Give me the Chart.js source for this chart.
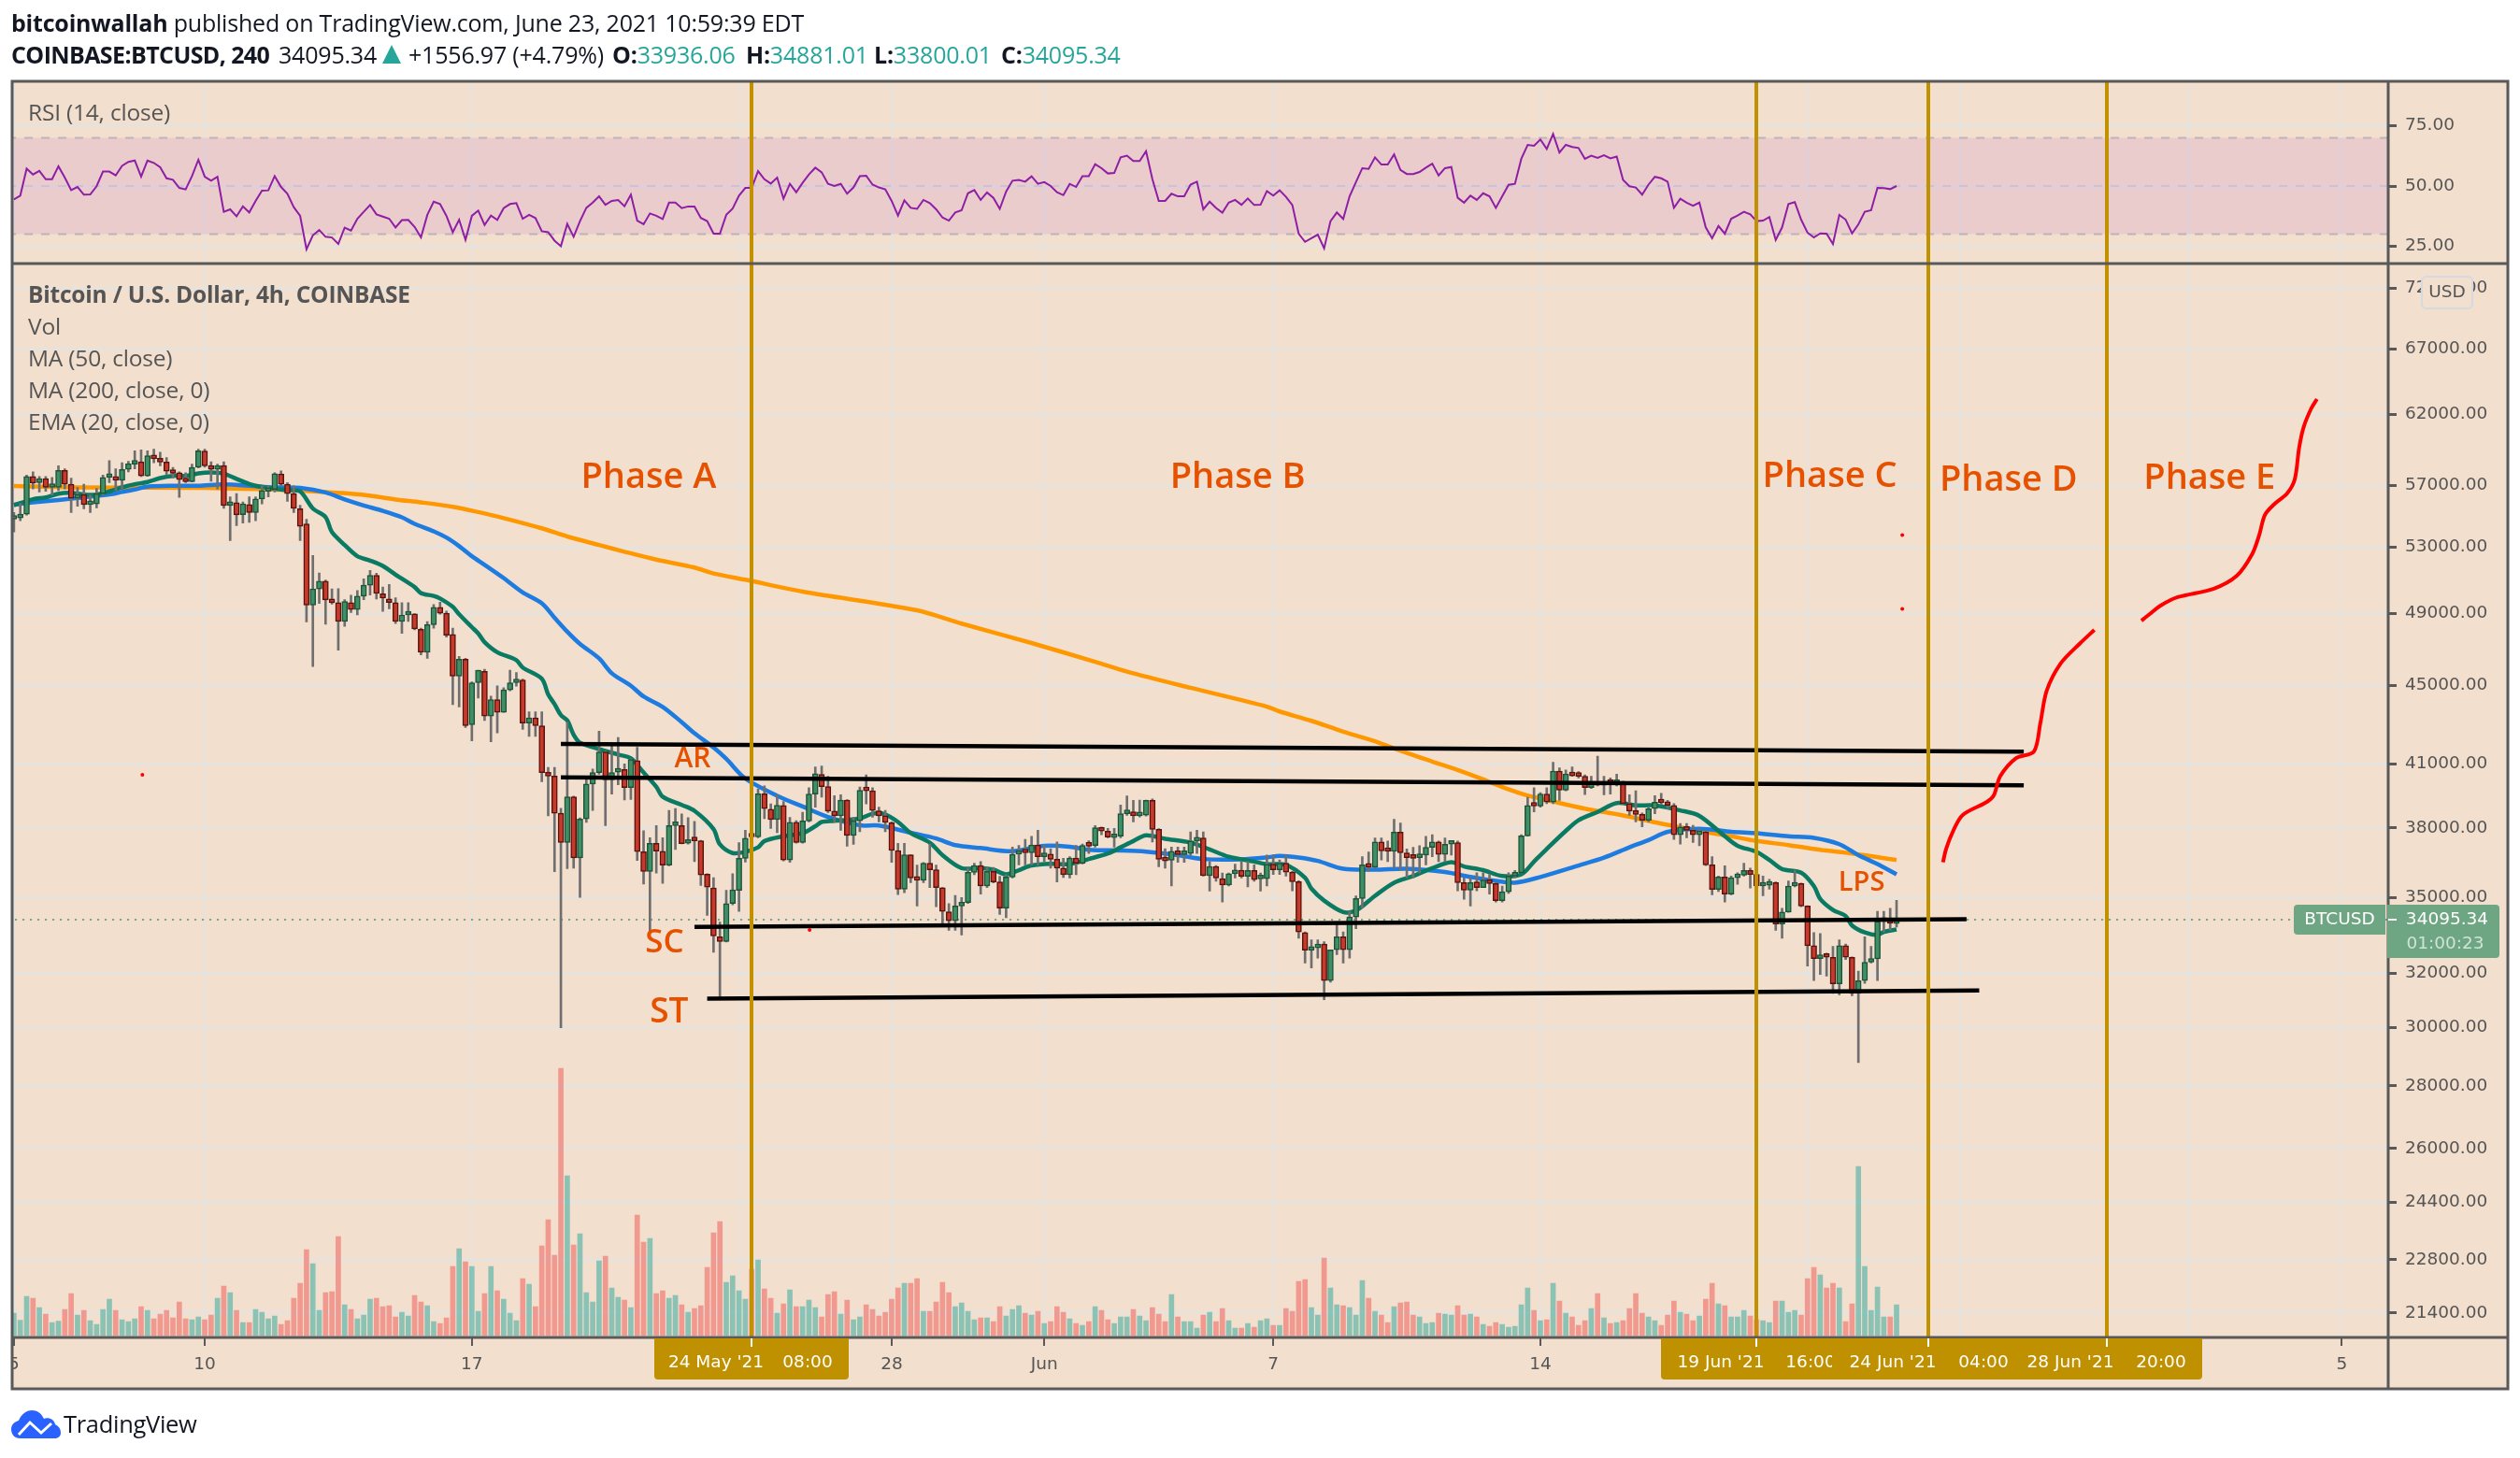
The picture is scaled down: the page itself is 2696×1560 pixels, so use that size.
<!DOCTYPE html>
<html>
<head>
<meta charset="utf-8">
<title>BTCUSD 240</title>
<script src="https://cdn.jsdelivr.net/npm/chart.js@4"></script>
<style>
    html, body { margin: 0; padding: 0; background: #ffffff; }
    body { position: relative; width: 2696px; height: 1560px; overflow: hidden; }
    canvas { position: absolute; left: 0; top: 0; }
    .txt { position: absolute; white-space: pre; font-family: "Open Sans", sans-serif; line-height: 30px; height: 30px; }
    .head { color: #131722; font-size: 25px; letter-spacing: -0.2px; }
    .leg { color: #555555; font-size: 24.5px; left: 30px; letter-spacing: -0.2px; }
    .teal { color: #26a69a; }
    b { font-weight: 700; }
</style>
</head>
<body>
<canvas id="chart" width="2696" height="1560"></canvas>
<div class="txt head" style="left:12px;top:9px"><b>bitcoinwallah</b> published on TradingView.com, June 23, 2021 10:59:39 EDT</div>
<div class="txt head" style="left:12px;top:43px;letter-spacing:-0.6px"><b>COINBASE:BTCUSD, 240</b></div>
<div class="txt head" style="left:298px;top:43px">34095.34</div>
<svg style="position:absolute;left:409px;top:48px" width="20" height="20" viewBox="0 0 20 20"><path d="M10 0 L20 20 L0 20 Z" fill="#26a69a"/></svg>
<div class="txt head" style="left:437px;top:43px">+1556.97 (+4.79%)</div>
<div class="txt head" style="left:655px;top:43px"><b>O:</b><span class="teal">33936.06</span></div>
<div class="txt head" style="left:798px;top:43px"><b>H:</b><span class="teal">34881.01</span></div>
<div class="txt head" style="left:935px;top:43px"><b>L:</b><span class="teal">33800.01</span></div>
<div class="txt head" style="left:1071px;top:43px"><b>C:</b><span class="teal">34095.34</span></div>
<div class="txt leg" style="top:105px">RSI (14, close)</div>
<div class="txt leg" style="top:300px"><b>Bitcoin / U.S. Dollar, 4h, COINBASE</b></div>
<div class="txt leg" style="top:334px">Vol</div>
<div class="txt leg" style="top:368px">MA (50, close)</div>
<div class="txt leg" style="top:402px">MA (200, close, 0)</div>
<div class="txt leg" style="top:436px">EMA (20, close, 0)</div>
<svg style="position:absolute;left:12px;top:1509px" width="53" height="30" viewBox="0 0 53 30">
    <path d="M10 30 C2 30 0 24 0 20 C0 15 4 12 8 11 C11 4 16 0 22 0 C28 0 32 3 35 9 C40 7 46 10 47 15 C51 17 53 20 53 24 C53 28 50 30 46 30 Z" fill="#2962ff"/>
    <path d="M8 26 L20 13 L32 24 L43 14" stroke="#ffffff" stroke-width="3" fill="none"/>
</svg>
<div class="txt" style="left:68px;top:1508px;font-size:25.5px;color:#131722;letter-spacing:-0.3px">TradingView</div>
<script>
// x positions are bar numbers, one bar every 4h, bar 0 = 5 May 2021 00:00
const tickBars = [0, 30, 72, 114, 138, 162, 198, 240, 282, 306, 342, 366];
const tickLabels = ["5", "10", "17", "24", "28", "Jun", "7", "14", "21", "25", "Jul", "5"];
const priceTicks = [72000, 67000, 62000, 57000, 53000, 49000, 45000, 41000, 38000, 35000, 32000, 30000, 28000, 26000, 24400, 22800, 21400];
const rsiTicks = [75, 50, 25];
const rsiLevels = [70, 50, 30];
const goldBars = [116, 274, 301, 329];
const lastPrice = 34095.34;

const opens = [
    54770,54850,55090,57600,57190,57460,56870,56870,58030,57080,
    56140,56390,55720,55760,56450,57550,57610,57340,58090,58450,
    58620,57650,59080,58870,58600,57990,57860,57440,57250,58240,
    59370,58360,58090,58360,55660,55850,55070,55720,55200,56100,
    56600,56730,57780,57080,56450,55450,54460,49470,50430,50900,
    49780,49620,48520,49620,49210,50000,50650,51250,50140,49840,
    49620,48520,48900,48960,48080,46790,48340,49340,49000,47780,
    45480,46410,42940,45130,45740,43380,44240,43580,44750,45130,
    45280,43020,43290,42890,40580,40410,38670,37350,39430,36680,
    38410,40030,40580,41580,40230,40600,40730,39860,41160,36950,
    36100,37320,36970,36370,38110,38110,37320,37460,37430,35980,
    35400,33410,33220,34750,35300,36660,37630,37600,39570,38850,
    38380,39030,36590,38260,37350,38320,39560,40490,39910,38770,
    38550,39280,37670,38330,39740,39710,38780,38550,38240,37000,
    35340,36810,35820,35720,36450,36170,35410,34410,34050,34650,
    34790,36060,36350,35480,36100,35650,34560,35860,36840,36980,
    36900,37250,36730,36850,36620,36240,35960,36670,36450,37220,
    37220,38020,37860,37570,37630,38650,38740,38550,38580,39260,
    37940,36620,36580,36970,36820,36870,37420,37560,35920,36310,
    35790,35520,36000,36150,35890,36140,35780,35790,36410,36170,
    36450,36070,35660,33580,32880,32970,33120,31720,32900,33410,
    32900,34200,34960,36380,36280,37380,36980,36960,37820,36900,
    36690,36690,36800,37140,37380,36830,37280,37350,35620,35310,
    35650,35410,35730,35580,34870,35240,35900,36040,37650,39030,
    39000,39560,39180,40650,39740,40510,40420,40400,39860,40050,
    39970,40140,40050,40110,39110,38770,38620,38350,38880,39180,
    39150,39030,37700,38050,37900,37700,37830,36380,35330,35860,
    35140,35830,35940,36140,35970,35480,35510,35620,33920,34400,
    35480,35580,34650,33060,32560,32670,32610,31600,33060,32610,
    31240,31720,32420,32550,34020,34020,33936.06
];
const closes = [
    54800,55050,57600,57150,57460,56870,56900,58030,57080,56140,
    56390,55720,55760,56450,57550,57610,57340,58090,58490,58620,
    57650,59040,58830,58600,57970,57820,57400,57250,58240,59390,
    58340,58090,58360,55660,55870,55050,55780,55200,56100,56660,
    56730,57800,57080,56450,55470,54310,49470,50430,50900,49780,
    49610,48520,49680,49210,50000,50650,51250,50160,49880,49620,
    48520,48900,48980,48100,46790,48340,49340,49000,47740,45480,
    46410,42890,45130,45800,43380,44240,43580,44750,45130,45320,
    43020,43290,42890,40580,40410,38670,37350,39430,36680,38410,
    40030,40580,41580,40230,40580,40730,39860,41210,36950,36100,
    37320,36970,36370,38110,38150,37300,37460,37430,35950,35430,
    33440,33220,34750,35320,36660,37550,37600,39570,38880,38380,
    39040,36590,38260,37350,38320,39560,40520,39910,38770,38550,
    39280,37670,38330,39740,39710,38800,38550,38250,37000,35340,
    36810,35820,35720,36450,36170,35410,34430,34050,34650,34790,
    36060,36350,35480,36100,35650,34560,35860,36840,36970,36900,
    37250,36730,36840,36620,36240,35960,36670,36450,37220,37190,
    38020,37860,37590,37630,38650,38770,38550,38600,39260,37940,
    36620,36550,36970,36820,36880,37420,37560,35920,36310,35820,
    35520,36000,36150,35890,36140,35750,35790,36400,36170,36450,
    36070,35660,33600,32880,32970,33120,31720,32900,33410,32900,
    34200,34960,36380,36280,37380,36980,36960,37820,36900,36690,
    36660,36800,37140,37380,36830,37280,37380,35620,35310,35620,
    35410,35730,35580,34870,35240,35900,36040,37650,39030,39000,
    39560,39180,40650,39740,40510,40420,40400,39860,40050,39970,
    40140,40050,40110,39110,38770,38620,38350,38880,39180,39150,
    39030,37700,38050,37900,37700,37830,36380,35330,35860,35140,
    35830,35940,36140,35970,35480,35510,35650,33920,34400,35480,
    35580,34650,33060,32560,32670,32610,31600,33060,32610,31240,
    31720,32420,32550,34020,34050,33950,34095.34
];
const highs = [
    55200,55800,57710,57920,57600,57610,57540,58340,58130,57500,
    56870,57080,56350,56800,57710,58700,58130,58550,58660,59390,
    59460,59390,59500,59290,58910,58240,57920,57860,58450,59500,
    59500,58620,58450,58620,56240,56450,55900,56240,56240,56980,
    56980,57860,57990,57190,56980,55680,54770,52460,51390,50970,
    50430,50450,49790,50050,50330,51030,51550,51380,50550,50700,
    49900,49620,49620,48980,48140,48520,49510,49640,49130,48140,
    46560,46450,45170,45800,45860,44420,44960,44870,45800,45680,
    45320,43610,43610,43610,40830,40830,38900,43070,39460,38460,
    40230,40750,42620,41630,41900,42300,41000,41260,41810,37880,
    37570,38110,37570,38800,38890,38640,38470,38300,37450,36000,
    35830,34000,35300,36000,37350,37900,37900,39800,39940,39100,
    39530,39210,38480,38330,38720,39860,40850,40900,40400,39480,
    39530,39300,38480,39890,40470,39860,38950,38800,38280,37320,
    37320,36810,36370,36480,37290,36370,35420,34750,35090,35000,
    36240,36450,36520,36270,36270,35890,35960,37150,37220,37490,
    37630,37900,37220,37080,37380,36660,36730,37220,37290,37430,
    38110,38050,37980,37980,39050,39470,39260,39280,39280,39330,
    37970,37080,37150,37150,37150,37830,37900,37830,36520,36350,
    36030,36030,36410,36520,36520,36380,36030,36800,36800,36590,
    36800,36100,35700,33600,33290,33290,33220,32900,33920,33600,
    34430,35070,36730,36940,37560,37560,37420,38400,38230,37070,
    37140,37210,37630,37700,37420,37560,37420,37420,35830,35830,
    36040,36040,35970,35620,35480,36040,36140,37700,39410,39860,
    39630,39860,41080,40800,40700,40850,40620,40470,40400,41370,
    40400,40320,40500,40170,39530,39710,38680,38950,39480,39590,
    39260,39110,38200,38200,38120,37970,37870,36730,35900,36340,
    35900,36040,36450,36240,36170,35900,35760,35650,34560,35690,
    36150,35600,34660,33580,33540,32770,33030,33290,33120,32620,
    32080,33410,33030,34430,34430,34560,34881.01
];
const lows = [
    53940,54670,55030,56770,56560,56600,56350,56660,56770,55200,
    55610,55450,55200,55500,56350,57190,56660,56770,57920,58130,
    57600,57610,58550,58340,57710,57500,56200,57190,57230,58200,
    58240,57290,56770,55470,53400,54350,54520,54560,54670,55760,
    56240,56560,56980,55930,55200,53400,48500,46000,49570,48370,
    49530,46900,48240,49040,48900,49790,50070,49830,49100,49250,
    48400,47840,48520,48040,46650,46450,48140,48940,47640,43970,
    43850,42800,42130,44320,43160,42080,42530,43580,44700,44950,
    42710,42350,42350,40140,38550,36090,30000,36220,36240,35000,
    38250,38800,40500,38110,39560,40000,39280,39310,36570,35560,
    33600,36030,35590,36340,37050,37290,37280,36520,35500,34270,
    32800,31120,33200,34700,34430,36500,37210,37560,38420,37980,
    37790,36550,36490,37320,37320,38280,38950,39410,38700,38270,
    37900,37190,37270,37830,39100,38490,38270,37830,36490,35120,
    35200,35620,34650,35620,35410,34620,33860,33670,33670,33480,
    34750,35960,35140,35410,35610,34300,34170,35820,36380,36380,
    36380,36380,36520,36240,35650,35840,35820,35960,36420,36870,
    37150,37700,37560,37150,37560,38570,38270,38500,38540,37380,
    36300,36240,35480,36490,36490,36800,36870,35900,35270,35680,
    34810,35480,35820,35820,35440,35680,35270,35480,35970,35970,
    35900,35280,33350,32390,32200,32580,31010,31660,32710,32390,
    32580,33730,34560,36110,36240,36590,36520,36240,36170,35830,
    35830,36040,36380,36730,36520,36520,36800,35280,34930,34650,
    35280,35410,35140,34810,34810,35170,35830,36040,37630,38730,
    38950,39110,39110,39260,39710,40400,40320,39530,39820,39940,
    39520,39560,39940,39100,38570,38270,38050,38270,38650,39080,
    38880,37490,37280,37560,37350,37210,36350,35110,35250,34810,
    35110,35550,35900,35390,35310,35070,35340,33670,33350,34390,
    35440,34620,32270,31720,31950,31890,31240,31190,32520,31160,
    28790,31620,32390,31720,33600,33670,33800.01
];
const volumes = [
    2400,1650,4200,4000,3000,2300,1400,1550,2800,4500,
    2200,2700,1600,1200,2800,3900,2700,1700,1500,1800,
    3100,2700,1800,2300,2700,1900,3600,1800,1700,2000,
    1700,2200,4000,5300,4600,2700,1400,1400,2800,2500,
    1800,2100,1200,1600,4000,5600,9200,7700,2700,4600,
    4700,10600,3300,2800,1800,2200,3900,4000,3100,3200,
    2000,2500,2100,4300,3600,3200,1500,1300,1900,7400,
    9300,7900,7400,2600,4500,7400,4800,3900,2400,1600,
    6100,5500,3100,9600,12400,8600,28600,17100,9700,10900,
    4600,3600,8000,8500,5100,4100,3800,3000,12900,10000,
    10400,4500,4800,4000,4300,3300,2500,2900,3200,7300,
    11000,12200,5700,6400,4800,3900,7100,8100,5000,4000,
    2400,3400,4900,3100,3100,3800,3000,2000,4400,4700,
    2300,3800,1700,2000,3300,2800,2100,2500,3900,5100,
    5600,5600,6100,2600,2600,3600,5700,4600,3100,3500,
    2600,1700,1900,1900,1500,3100,2100,2800,3200,2400,
    2200,2600,1300,1500,3100,2500,1800,1300,1100,1500,
    3100,2700,1700,1300,2000,2000,2800,2100,1600,3000,
    2300,1500,4400,2000,1500,1500,800,2200,2500,1500,
    2900,1600,800,800,1300,900,1600,1800,1100,1100,
    2900,2600,5800,6000,3000,2200,8300,5100,3300,3200,
    3000,2200,5900,4000,2600,2200,1400,3100,3500,3600,
    2200,2000,1300,1400,2400,2300,2200,3200,2200,2300,
    2000,1200,1000,1400,1200,900,1000,3300,5100,2700,
    1600,1700,5600,3700,2400,2000,1100,1600,2900,4500,
    1900,1300,1400,1600,2900,4500,2400,2000,1600,1100,
    2200,3700,2500,2300,1600,2100,3900,5600,3400,3200,
    2000,2000,2700,2100,1700,1600,1400,3700,3700,2500,
    2700,2200,6100,7300,6500,5100,5600,5100,1500,3400,
    18100,7400,2700,5200,2000,2000,3300
];
const rsiValues = [
    44.4,46.0,57.2,54.8,56.3,52.8,52.8,58.2,53.5,48.3,
    49.6,46.4,46.5,49.9,56.0,56.0,54.4,58.4,60.0,60.6,
    53.9,60.6,59.6,57.8,53.2,52.6,49.2,48.6,54.1,60.9,
    53.9,52.2,53.8,39.3,40.3,37.4,41.5,39.0,43.8,48.1,
    48.2,54.1,49.6,46.8,41.2,37.6,23.7,29.5,31.7,28.9,
    28.6,25.9,32.7,31.5,36.4,39.3,42.1,38.2,37.3,36.4,
    32.8,35.8,35.9,33.0,28.6,38.0,43.5,42.5,37.6,30.8,
    36.0,27.6,37.6,39.8,33.8,37.7,35.9,40.8,42.5,42.9,
    36.4,38.0,36.7,31.2,30.8,27.3,25.0,34.3,28.9,35.4,
    40.9,43.1,45.7,42.2,43.8,44.2,41.6,46.4,35.6,34.1,
    38.6,37.6,36.3,43.1,43.1,40.8,41.5,41.5,36.7,35.4,
    30.2,30.2,38.0,40.6,46.0,49.2,49.2,56.2,52.8,51.0,
    53.5,44.7,50.9,47.4,51.3,54.8,57.6,55.7,50.9,50.0,
    50.9,46.8,49.4,54.1,54.3,50.6,49.4,48.6,43.8,37.7,
    44.0,40.9,40.5,44.2,42.9,40.3,36.9,35.6,39.0,39.9,
    47.0,48.3,44.2,47.3,45.1,40.5,47.7,52.2,52.5,51.8,
    54.0,50.9,51.6,50.0,47.4,46.2,50.9,49.6,54.1,54.1,
    59.1,57.4,55.2,55.4,61.9,62.6,60.4,60.4,64.5,52.8,
    43.8,43.8,46.8,45.7,45.7,50.6,51.8,40.3,43.5,40.9,
    38.9,43.1,44.2,42.2,44.8,42.1,42.2,47.9,46.0,48.2,
    45.5,42.1,30.2,26.8,28.3,29.8,24.1,35.4,39.0,36.3,
    45.7,51.6,57.4,57.1,61.9,58.9,58.9,63.1,56.7,55.0,
    55.0,55.8,57.6,59.3,54.4,57.4,57.9,45.1,43.1,46.0,
    44.2,47.0,45.7,40.9,45.7,50.5,50.9,61.3,67.1,66.7,
    69.3,65.4,71.6,63.9,67.1,66.2,65.8,61.3,62.6,61.7,
    62.8,61.5,62.2,52.5,49.9,49.4,46.4,50.6,53.8,53.2,
    51.8,40.9,44.7,43.1,41.8,43.1,32.8,28.3,33.4,30.2,
    36.4,37.7,39.3,38.2,35.4,35.6,37.1,27.6,32.8,42.5,
    43.3,36.0,30.6,28.6,30.3,30.2,25.9,38.0,36.0,30.3,
    34.1,39.3,39.9,49.2,49.1,48.7,50.0
];

const emaBars = [0,3,5,7,9,11,13,15,17,19,21,23,25,27,29,31,33,35,37,39,41,43,45,47,49,50,52,54,56,58,60,63,64,66,67,69,70,72,73,74,76,79,80,83,84,85,86,87,88,89,92,95,97,99,101,102,105,107,110,111,113,115,117,118,121,124,126,127,129,133,135,137,139,141,144,146,149,152,154,156,158,160,163,166,169,172,174,176,178,181,185,188,191,195,197,200,203,204,206,209,211,214,217,220,223,226,228,231,234,237,239,241,244,246,249,252,255,258,262,265,269,271,274,276,278,281,283,284,286,288,289,291,293,294,296];
const emaValues = [55680,56080,56200,56450,56500,56390,56390,56600,56870,57080,57230,57500,57650,57650,57820,57880,57800,57450,57100,56900,56780,56680,56600,55470,54900,53940,53120,52420,52150,51820,51290,50540,50180,50010,49860,49370,48940,48200,47840,47350,46790,46350,45950,45340,44510,44000,43430,43160,42440,42040,41720,41450,41270,40580,39900,39440,39050,38780,37950,37270,36890,36940,37140,37420,37630,37770,38080,38270,38320,38430,38650,38620,38270,37770,37350,36800,36240,36240,36170,35970,36150,36350,36420,36410,36630,36870,37140,37420,37670,37520,37350,37050,36730,36520,36410,36380,35830,35370,34870,34400,34460,35070,35620,35900,36240,36490,36310,36150,35900,35970,36520,37070,37870,38350,38730,39140,39030,39030,38800,38550,37630,37210,36940,36590,36200,36040,35480,34940,34490,34240,33860,33580,33480,33600,33700];
const ma50Bars = [0,3,7,11,15,17,19,21,25,29,33,37,41,45,49,52,55,58,61,63,66,68,70,72,74,77,80,83,85,87,89,92,94,97,99,102,105,107,110,112,115,120,124,128,133,136,141,145,148,152,157,162,166,169,174,178,183,187,193,197,199,202,205,209,214,219,225,229,232,236,240,246,250,254,257,260,265,270,274,279,283,287,290,293,296];
const ma50Values = [55720,55870,56030,56200,56390,56560,56730,56920,56980,56980,57080,56980,56870,56830,56530,56060,55660,55310,54890,54470,53990,53590,53050,52420,51890,51080,50220,49580,48740,47940,47250,46450,45640,44970,44400,43860,43070,42510,41800,41240,40290,39480,38980,38500,38120,38110,37790,37530,37240,37110,36970,37210,37170,37030,37000,36950,36800,36630,36620,36700,36770,36700,36550,36210,36170,36210,36070,35860,35730,35620,35860,36350,36690,37140,37460,37830,37970,37830,37770,37630,37560,37280,36800,36410,35970];
const ma200Bars = [0,10,30,45,50,55,60,64,69,73,77,83,87,92,96,101,107,110,115,124,142,149,160,170,175,185,197,199,204,209,214,217,223,227,231,234,238,243,247,253,259,265,270,274,279,284,289,296];
const ma200Values = [56960,56870,56830,56650,56530,56370,56060,55870,55580,55230,54840,54180,53660,53120,52700,52210,51720,51360,50980,50270,49170,48400,47300,46260,45730,44860,43870,43620,43140,42590,42110,41750,41110,40700,40250,39890,39490,39140,38880,38570,38200,37870,37630,37420,37240,37030,36870,36590];

const topLineBars = [86, 316];
const topLinePrices = [41980, 41590];
const midLineBars = [86, 316];
const midLinePrices = [40350, 39970];
const lpsLineBars = [107, 307];
const lpsLinePrices = [33800, 34110];
const stLineBars = [109, 309];
const stLinePrices = [31050, 31350];

const sketch1Bars = [303.3,303.8,304.9,306.4,310.2,311.3,312.3,314.8,317.6,318.6,319.6,321.8,324.9,327.1];
const sketch1Prices = [36490,37080,37870,38590,39190,39500,40400,41280,41600,43010,44700,46170,47300,48040];
const sketch2Bars = [334.5,335.8,337.5,340.2,345.8,349.5,351.9,353,353.9,355.3,357.4,358.6,359.3,360,361.2,362.1];
const sketch2Prices = [48570,48950,49440,49940,50430,51220,52540,53720,55040,55720,56460,57400,59610,61070,62440,63140];
const dotBars = [20.2, 125.1, 296.9, 296.9];
const dotPrices = [40470, 33680, 53750, 49250];

const noteTexts = ["Phase A", "Phase B", "Phase C", "Phase D", "Phase E", "AR", "SC", "ST", "LPS"];
const noteBars = [99.8, 192.4, 285.5, 313.6, 345.2, 106.7, 102.3, 103, 290.5];
const notePrices = [57530, 57530, 57590, 57340, 57470, 41200, 33170, 30540, 35620];
const noteSizes = [38, 38, 38, 38, 38, 30, 35, 37, 29];

const BG = "#f2dfce";
const GRID = "#e6e3df";
const FRAME = "#595959";
const AXIS_TEXT = "#555555";
const GOLD = "#c19100";
const NOTE = "#e65100";
const TAG = "#6ea582";
const AXIS_FONT = "DejaVu Sans";

function pairs(bars, values) {
    return bars.map((bar, i) => ({ x: bar, y: values[i] }));
}

function pill(ctx, x, y, w, h, radii, color) {
    ctx.fillStyle = color;
    ctx.beginPath();
    ctx.roundRect(x, y, w, h, radii);
    ctx.fill();
}

function centerText(ctx, text, x, y) {
    ctx.textAlign = "center";
    ctx.textBaseline = "middle";
    ctx.fillText(text, x, y);
}

const paintPlugin = {
    id: "paint",
    beforeDraw(chart) {
        const ctx = chart.ctx;
        ctx.save();
        ctx.fillStyle = BG;
        ctx.fillRect(13, 87, 2670, 1399);
        ctx.restore();
    },
    afterDatasetsDraw(chart) {
        const ctx = chart.ctx;
        const x = chart.scales.x;
        const y = chart.scales.yPrice;
        const area = chart.chartArea;
        ctx.save();
        ctx.fillStyle = NOTE;
        noteTexts.forEach((text, i) => {
            ctx.font = "600 " + noteSizes[i] + "px 'Open Sans'";
            centerText(ctx, text, x.getPixelForValue(noteBars[i]), y.getPixelForValue(notePrices[i]));
        });
        ctx.strokeStyle = GOLD;
        ctx.lineWidth = 4;
        goldBars.forEach(bar => {
            const px = Math.round(x.getPixelForValue(bar));
            ctx.beginPath();
            ctx.moveTo(px, area.top);
            ctx.lineTo(px, area.bottom);
            ctx.stroke();
        });
        ctx.restore();
    },
    afterDraw(chart) {
        const ctx = chart.ctx;
        const x = chart.scales.x;
        const y = chart.scales.yPrice;
        const area = chart.chartArea;
        ctx.save();

        // "5" at the left edge is cut by the frame
        ctx.fillStyle = "#ffffff";
        ctx.fillRect(0, area.bottom, 12, 55);

        ctx.strokeStyle = FRAME;
        ctx.lineWidth = 3;
        ctx.strokeRect(13, 87, 2670, 1399);
        ctx.beginPath();
        ctx.moveTo(area.right, 87);
        ctx.lineTo(area.right, 1486);
        ctx.moveTo(13, 282);
        ctx.lineTo(2683, 282);
        ctx.moveTo(13, area.bottom);
        ctx.lineTo(2683, area.bottom);
        ctx.stroke();

        pill(ctx, 700, 1432, 208, 44, [0, 0, 4, 4], "#bf9000");
        pill(ctx, 1777, 1432, 579, 44, [0, 0, 4, 4], "#bf9000");
        ctx.strokeStyle = "#ffffff";
        ctx.lineWidth = 2;
        goldBars.forEach(bar => {
            const px = Math.round(x.getPixelForValue(bar));
            ctx.beginPath();
            ctx.moveTo(px, 1432);
            ctx.lineTo(px, 1441);
            ctx.stroke();
        });
        ctx.fillStyle = "#ffffff";
        ctx.font = "18.5px " + AXIS_FONT;
        centerText(ctx, "24 May '21", 766, 1458);
        centerText(ctx, "08:00", 864, 1458);
        centerText(ctx, "19 Jun '21", 1841, 1458);
        ctx.save();
        ctx.beginPath();
        ctx.rect(1900, 1432, 60, 44);
        ctx.clip();
        centerText(ctx, "16:00", 1937, 1458);
        ctx.restore();
        centerText(ctx, "24 Jun '21", 2025, 1458);
        centerText(ctx, "04:00", 2122, 1458);
        centerText(ctx, "28 Jun '21", 2215, 1458);
        centerText(ctx, "20:00", 2312, 1458);

        const py = Math.round(y.getPixelForValue(lastPrice));
        pill(ctx, 2454, py - 16, 98, 32, [4, 0, 0, 4], TAG);
        pill(ctx, 2554, py - 16, 120, 57, [0, 4, 4, 0], TAG);
        ctx.fillStyle = "#ffffff";
        centerText(ctx, "BTCUSD", 2503, py);
        ctx.fillText("34095.34", 2618, py);
        ctx.fillRect(2555, py - 1, 9, 2);
        ctx.fillStyle = "#cfe4d6";
        centerText(ctx, "01:00:23", 2616, py + 26);

        ctx.fillStyle = BG;
        ctx.strokeStyle = "#d6d9e0";
        ctx.lineWidth = 2;
        ctx.beginPath();
        ctx.roundRect(2591, 296, 54, 34, 5);
        ctx.fill();
        ctx.stroke();
        ctx.fillStyle = AXIS_TEXT;
        centerText(ctx, "USD", 2618, 313);
        ctx.restore();
    }
};

function tickFit(width) {
    return scale => { scale.width = width; };
}

new Chart(document.getElementById("chart"), {
    type: "bar",
    plugins: [paintPlugin],
    data: {
        datasets: [
            {
                type: "line", yAxisID: "yRsi", order: 40,
                data: pairs([-1, 374], [rsiLevels[0], rsiLevels[0]]),
                borderColor: "#bdb3ba", borderWidth: 2, borderDash: [9, 9],
                backgroundColor: "rgba(156,39,176,0.1)", fill: { value: rsiLevels[2] }, pointRadius: 0
            },
            {
                type: "line", yAxisID: "yRsi", order: 39,
                data: pairs([-1, 374], [rsiLevels[1], rsiLevels[1]]),
                borderColor: "#cfc0d2", borderWidth: 2, borderDash: [9, 9], pointRadius: 0
            },
            {
                type: "line", yAxisID: "yRsi", order: 39,
                data: pairs([-1, 374], [rsiLevels[2], rsiLevels[2]]),
                borderColor: "#bdb3ba", borderWidth: 2, borderDash: [9, 9], pointRadius: 0
            },
            {
                type: "line", yAxisID: "yRsi", order: 38,
                data: rsiValues.map((v, i) => ({ x: i, y: v })),
                borderColor: "#8e1ea5", borderWidth: 2, pointRadius: 0, tension: 0
            },
            {
                label: "Vol", yAxisID: "yVol", order: 30, grouped: false, barThickness: 5,
                data: volumes.map((v, i) => ({ x: i, y: v })),
                backgroundColor: volumes.map((v, i) => closes[i] >= opens[i] ? "rgba(38,166,154,0.5)" : "rgba(239,83,80,0.5)")
            },
            {
                type: "line", yAxisID: "yPrice", order: 29,
                data: pairs([-1, 374], [lastPrice, lastPrice]),
                borderColor: TAG, borderWidth: 2, borderDash: [2, 6], pointRadius: 0
            },
            {
                label: "MA 200", type: "line", yAxisID: "yPrice", order: 25,
                data: pairs(ma200Bars, ma200Values),
                borderColor: "#ff9800", borderWidth: 4.5, pointRadius: 0, tension: 0.3
            },
            {
                label: "MA 50", type: "line", yAxisID: "yPrice", order: 24,
                data: pairs(ma50Bars, ma50Values),
                borderColor: "#1e7be0", borderWidth: 4.5, pointRadius: 0, tension: 0.3
            },
            {
                label: "EMA 20", type: "line", yAxisID: "yPrice", order: 23,
                data: pairs(emaBars, emaValues),
                borderColor: "#0b7a63", borderWidth: 4.5, pointRadius: 0, tension: 0.3
            },
            {
                label: "Wick", yAxisID: "yPrice", order: 20, grouped: false, barThickness: 2,
                data: highs.map((h, i) => ({ x: i, y: [lows[i], h] })),
                backgroundColor: "#6f6f6f"
            },
            {
                label: "Body", yAxisID: "yPrice", order: 19, grouped: false, barThickness: 6,
                data: opens.map((o, i) => ({ x: i, y: [o, closes[i]] })),
                backgroundColor: opens.map((o, i) => closes[i] >= o ? "#3f8f66" : "#c63a2b"),
                borderColor: opens.map((o, i) => closes[i] >= o ? "#1d5439" : "#5a120c"),
                borderWidth: 1.5, borderSkipped: false, minBarLength: 4
            },
            {
                type: "line", yAxisID: "yPrice", order: 10,
                data: pairs(topLineBars, topLinePrices), borderColor: "#000000", borderWidth: 4.5, pointRadius: 0
            },
            {
                type: "line", yAxisID: "yPrice", order: 10,
                data: pairs(midLineBars, midLinePrices), borderColor: "#000000", borderWidth: 4.5, pointRadius: 0
            },
            {
                type: "line", yAxisID: "yPrice", order: 10,
                data: pairs(lpsLineBars, lpsLinePrices), borderColor: "#000000", borderWidth: 4.5, pointRadius: 0
            },
            {
                type: "line", yAxisID: "yPrice", order: 10,
                data: pairs(stLineBars, stLinePrices), borderColor: "#000000", borderWidth: 4.5, pointRadius: 0
            },
            {
                type: "line", yAxisID: "yPrice", order: 5,
                data: pairs(sketch1Bars, sketch1Prices), borderColor: "#ff0000", borderWidth: 4, pointRadius: 0, tension: 0.3
            },
            {
                type: "line", yAxisID: "yPrice", order: 5,
                data: pairs(sketch2Bars, sketch2Prices), borderColor: "#ff0000", borderWidth: 4, pointRadius: 0, tension: 0.3
            },
            {
                type: "line", yAxisID: "yPrice", order: 5, showLine: false,
                data: pairs(dotBars, dotPrices), pointRadius: 2, pointBackgroundColor: "#ff0000", pointBorderWidth: 0
            }
        ]
    },
    options: {
        responsive: false,
        animation: false,
        events: [],
        layout: { padding: { left: 13, top: 87, right: 13, bottom: 74 } },
        plugins: { legend: { display: false }, tooltip: { enabled: false } },
        scales: {
            x: {
                type: "linear",
                min: -0.24,
                max: 373.3,
                bounds: "data",
                offset: false,
                afterBuildTicks: scale => { scale.ticks = tickBars.map(v => ({ value: v })); },
                afterFit: scale => { scale.height = 55; },
                grid: { color: GRID, lineWidth: 2, tickColor: FRAME, tickLength: 9, offset: false },
                border: { display: false },
                ticks: {
                    autoSkip: false, maxRotation: 0, padding: 9, color: AXIS_TEXT,
                    font: { family: AXIS_FONT, size: 18.5 },
                    callback: value => tickLabels[tickBars.indexOf(value)]
                }
            },
            yRsi: {
                type: "linear",
                position: "right",
                stack: "panes",
                stackWeight: 195,
                min: 17.77,
                max: 93.5,
                bounds: "data",
                afterBuildTicks: scale => { scale.ticks = rsiTicks.map(v => ({ value: v })); },
                afterFit: tickFit(128),
                grid: { color: GRID, lineWidth: 3, tickColor: FRAME, tickLength: 9 },
                border: { display: false },
                ticks: {
                    autoSkip: false, padding: 9, color: AXIS_TEXT,
                    font: { family: AXIS_FONT, size: 18.5 },
                    callback: value => value.toFixed(2)
                }
            },
            yPrice: {
                type: "logarithmic",
                position: "right",
                stack: "panes",
                stackWeight: 1149,
                min: 20793,
                max: 74120,
                bounds: "data",
                afterBuildTicks: scale => { scale.ticks = priceTicks.map(v => ({ value: v })); },
                afterFit: tickFit(128),
                grid: { color: GRID, lineWidth: 3, tickColor: FRAME, tickLength: 9 },
                border: { display: false },
                ticks: {
                    autoSkip: false, padding: 9, color: AXIS_TEXT,
                    font: { family: AXIS_FONT, size: 18.5 },
                    callback: value => value.toFixed(2)
                }
            },
            yVol: {
                type: "linear",
                position: "left",
                display: false,
                min: -200,
                max: 134200
            }
        }
    }
});
</script>
</body>
</html>
